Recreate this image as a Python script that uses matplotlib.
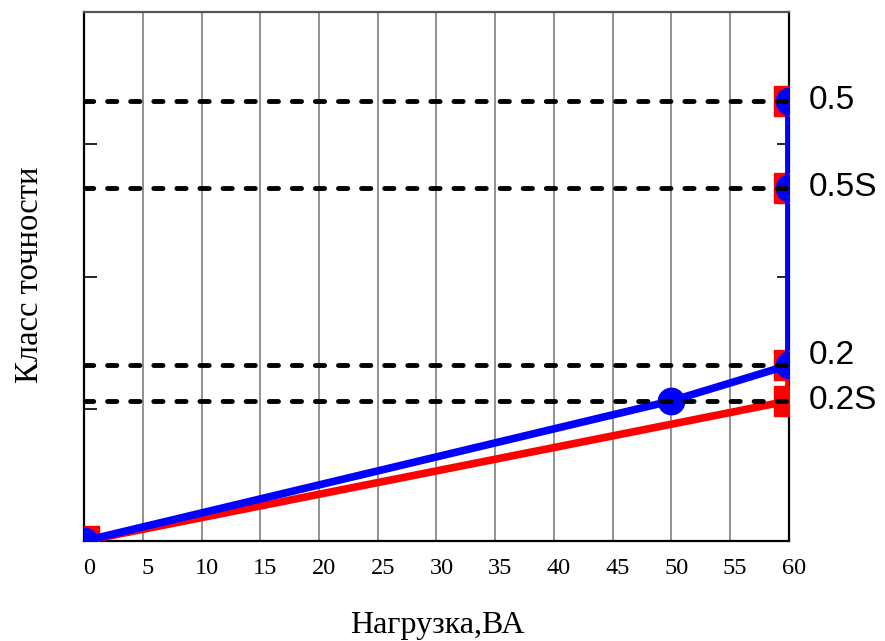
import matplotlib
matplotlib.use("Agg")
import matplotlib.pyplot as plt
import matplotlib.transforms as mtransforms

# accuracy class levels (in axis units) and their names
class_names = ["0.2S", "0.2", "0.5S", "0.5"]
class_levels = [1.06, 1.33, 2.67, 3.33]

# red series (squares) and blue series (circles)
red_x = [0, 60, 60, 60, 60]
red_y = [0, 1.06, 1.33, 2.67, 3.33]
blue_x = [0, 50, 60, 60, 60]
blue_y = [0, 1.06, 1.33, 2.67, 3.33]

x_ticks = list(range(0, 61, 5))
y_ticks = [0, 1, 2, 3, 4]

fig = plt.figure(figsize=(8.85, 6.41), dpi=100)
ax = fig.add_axes([84 / 885, 100 / 641, 705 / 885, 529 / 641])

# vertical grid
for xv in x_ticks[1:-1]:
    ax.axvline(xv, color="#7f7f7f", lw=1.2, zorder=1)

ax.plot(red_x, red_y, color="#ff0000", lw=5.5, marker="s", ms=21,
        mec="#ff0000", zorder=3)
ax.plot(blue_x, blue_y, color="#0000ff", lw=5.5, marker="o", ms=19,
        mec="#0000ff", zorder=4)

# dashed class levels
for lv in class_levels:
    ax.plot([0, 60], [lv, lv], color="black", lw=3.5, ls=(0, (1.9, 2.85)),
            dash_capstyle="round", zorder=5)

# labels on the right
label_shift = {"0.2": 10}
for name, lv in zip(class_names, class_levels):
    ax.annotate(name, xy=(60, lv), xytext=(14, label_shift.get(name, 0) * 0.72),
                textcoords="offset points", ha="left", va="center",
                fontsize=24, family="Liberation Sans", annotation_clip=False)

ax.set_xlim(0, 60)
ax.set_ylim(0, 4)
ax.set_xticks(x_ticks)
ax.set_yticks(y_ticks)
ax.set_yticklabels([])
ax.tick_params(axis="x", length=0, pad=12, labelsize=17.5)
ax.tick_params(axis="y", direction="in", length=9, width=1.2, left=True, right=True)
for lab in ax.get_xticklabels():
    lab.set_family("Liberation Serif")
    lab.set_transform(lab.get_transform() +
                      mtransforms.ScaledTranslation(5 / 100, 0, fig.dpi_scale_trans))

for side in ["left", "right", "bottom"]:
    ax.spines[side].set_linewidth(1.6)
    ax.spines[side].set_color("black")
ax.spines["top"].set_linewidth(1.6)
ax.spines["top"].set_color("#555555")

fig.text(437 / 885, 1 - 625 / 641, "Нагрузка,ВА", ha="center", va="center",
         fontsize=23, family="Liberation Serif")
fig.text(30 / 885, 1 - 275 / 641, "Класс точности", ha="center", va="center",
         rotation=90, fontsize=23.5, family="Liberation Serif")

fig.savefig("out.png", dpi=100)
